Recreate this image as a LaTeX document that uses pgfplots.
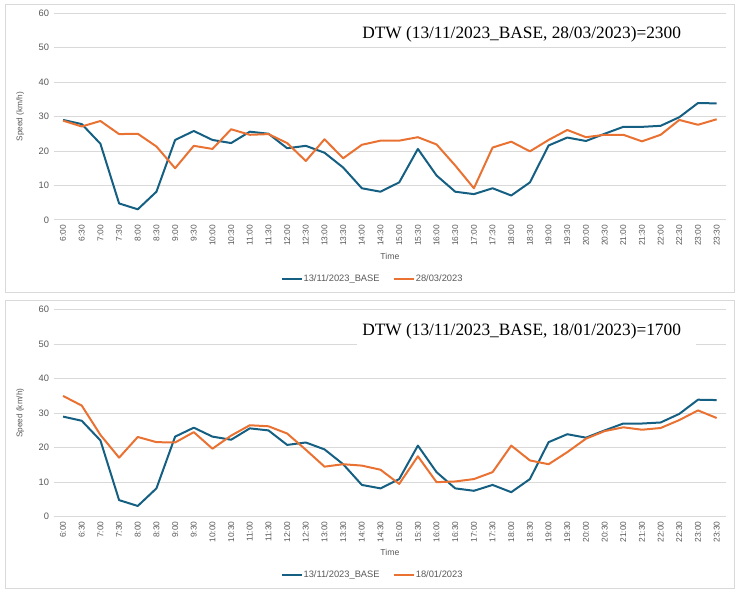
\documentclass[border=0pt]{standalone}
\usepackage{pgfplots}
\pgfplotsset{compat=1.18}
\usepackage{pgfplotstable}
\usepackage{fontspec}
\setmainfont{Liberation Serif}
\setsansfont{Liberation Sans}

\definecolor{basecol}{HTML}{156082}
\definecolor{cmpcol}{HTML}{E97132}
\definecolor{gridcol}{HTML}{D9D9D9}
\definecolor{tickcol}{HTML}{595959}

% speeds in km/h, one row per half hour from 6:00
\pgfplotstableread{
idx base mar jan
0  29.0 28.8 35.0
1  27.8 27.1 32.2
2  22.1 28.7 23.7
3  4.8  24.9 17.1
4  3.1  25.0 23.1
5  8.2  21.3 21.6
6  23.2 15.0 21.5
7  25.8 21.5 24.5
8  23.2 20.6 19.7
9  22.3 26.3 23.5
10 25.6 24.7 26.5
11 25.0 24.9 26.2
12 20.8 22.3 24.1
13 21.5 17.1 19.4
14 19.5 23.4 14.5
15 15.2 17.9 15.2
16 9.2  21.8 14.8
17 8.2  23.0 13.6
18 10.9 23.0 9.5
19 20.6 24.0 17.5
20 12.9 21.9 10.0
21 8.2  15.8 10.2
22 7.5  9.2  10.9
23 9.2  21.0 12.9
24 7.1  22.7 20.6
25 10.9 19.9 16.3
26 21.6 23.2 15.2
27 23.9 26.1 18.7
28 22.9 24.0 22.6
29 25.0 24.7 24.8
30 27.0 24.7 25.9
31 27.0 22.8 25.2
32 27.3 24.7 25.7
33 29.8 29.0 28.0
34 33.9 27.6 30.8
35 33.8 29.2 28.6
}\speeds

\pgfplotsset{
  speedaxis/.style={
    scale only axis,
    width=504.2pt, height=155.25pt,
    anchor=south west,
    xmin=-0.5, xmax=35.5,
    ymin=0, ymax=60,
    ytick={0,10,...,60},
    xtick={0,...,35},
    xticklabels={6:00,6:30,7:00,7:30,8:00,8:30,9:00,9:30,10:00,10:30,11:00,11:30,12:00,12:30,13:00,13:30,14:00,14:30,15:00,15:30,16:00,16:30,17:00,17:30,18:00,18:30,19:00,19:30,20:00,20:30,21:00,21:30,22:00,22:30,23:00,23:30},
    xticklabel style={rotate=90, anchor=east, font=\sffamily\fontsize{6.3}{7}\selectfont, text=tickcol},
    yticklabel style={font=\sffamily\fontsize{7}{8}\selectfont, text=tickcol},
    /pgf/number format/assume math mode=true,
    major tick length=0pt,
    axis line style={draw=none},
    ymajorgrids=true,
    grid style={gridcol, line width=0.75pt},
    xlabel={Time},
    xlabel style={at={(axis description cs:0.5,-0.174)}, anchor=center, font=\sffamily\fontsize{6.5}{7}\selectfont, text=tickcol},
    ylabel={Speed (km/h)},
    ylabel style={at={(axis description cs:-0.037,0.5)}, anchor=south, font=\sffamily\fontsize{6.2}{7}\selectfont, text=tickcol},
    legend columns=2,
    legend style={at={(rel axis cs:0.4735,-0.284)}, anchor=center, draw=none, fill=none,
      font=\sffamily\fontsize{7}{8}\selectfont, text=tickcol,
      nodes={inner xsep=0.8pt},
      /tikz/every even column/.append style={column sep=9pt}},
    legend image code/.code={\draw[#1] (0pt,0pt) -- (15pt,0pt);},
    every axis plot/.append style={line width=1.5pt, line join=round, mark=none},
  }
}

\begin{document}
\begin{tikzpicture}
\path[use as bounding box] (0,0) rectangle (556.5pt,-443.25pt);
\draw[gridcol, line width=0.6pt] (3.75pt,-3pt) rectangle (550.5pt,-219pt);
\draw[gridcol, line width=0.6pt] (3.75pt,-225pt) rectangle (550.5pt,-441pt);

\begin{axis}[speedaxis, at={(40.3pt,-165pt)}]
  \addplot[basecol] table[x=idx, y=base] {\speeds};
  \addlegendentry{13/11/2023\_BASE}
  \addplot[cmpcol] table[x=idx, y=mar] {\speeds};
  \addlegendentry{28/03/2023}
\end{axis}
\node[anchor=base west, inner sep=0pt, font=\fontsize{13}{15}\selectfont] at (271.5pt,-28.7pt) {DTW (13/11/2023\_BASE, 28/03/2023)=2300};

\begin{axis}[speedaxis, at={(40.3pt,-387.5pt)}]
  \addplot[basecol] table[x=idx, y=base] {\speeds};
  \addlegendentry{13/11/2023\_BASE}
  \addplot[cmpcol] table[x=idx, y=jan] {\speeds};
  \addlegendentry{18/01/2023}
\end{axis}
\fill[white] (267.75pt,-234.75pt) rectangle (522pt,-261.75pt);
\node[anchor=base west, inner sep=0pt, font=\fontsize{13}{15}\selectfont] at (271.5pt,-251.25pt) {DTW (13/11/2023\_BASE, 18/01/2023)=1700};
\end{tikzpicture}
\end{document}
